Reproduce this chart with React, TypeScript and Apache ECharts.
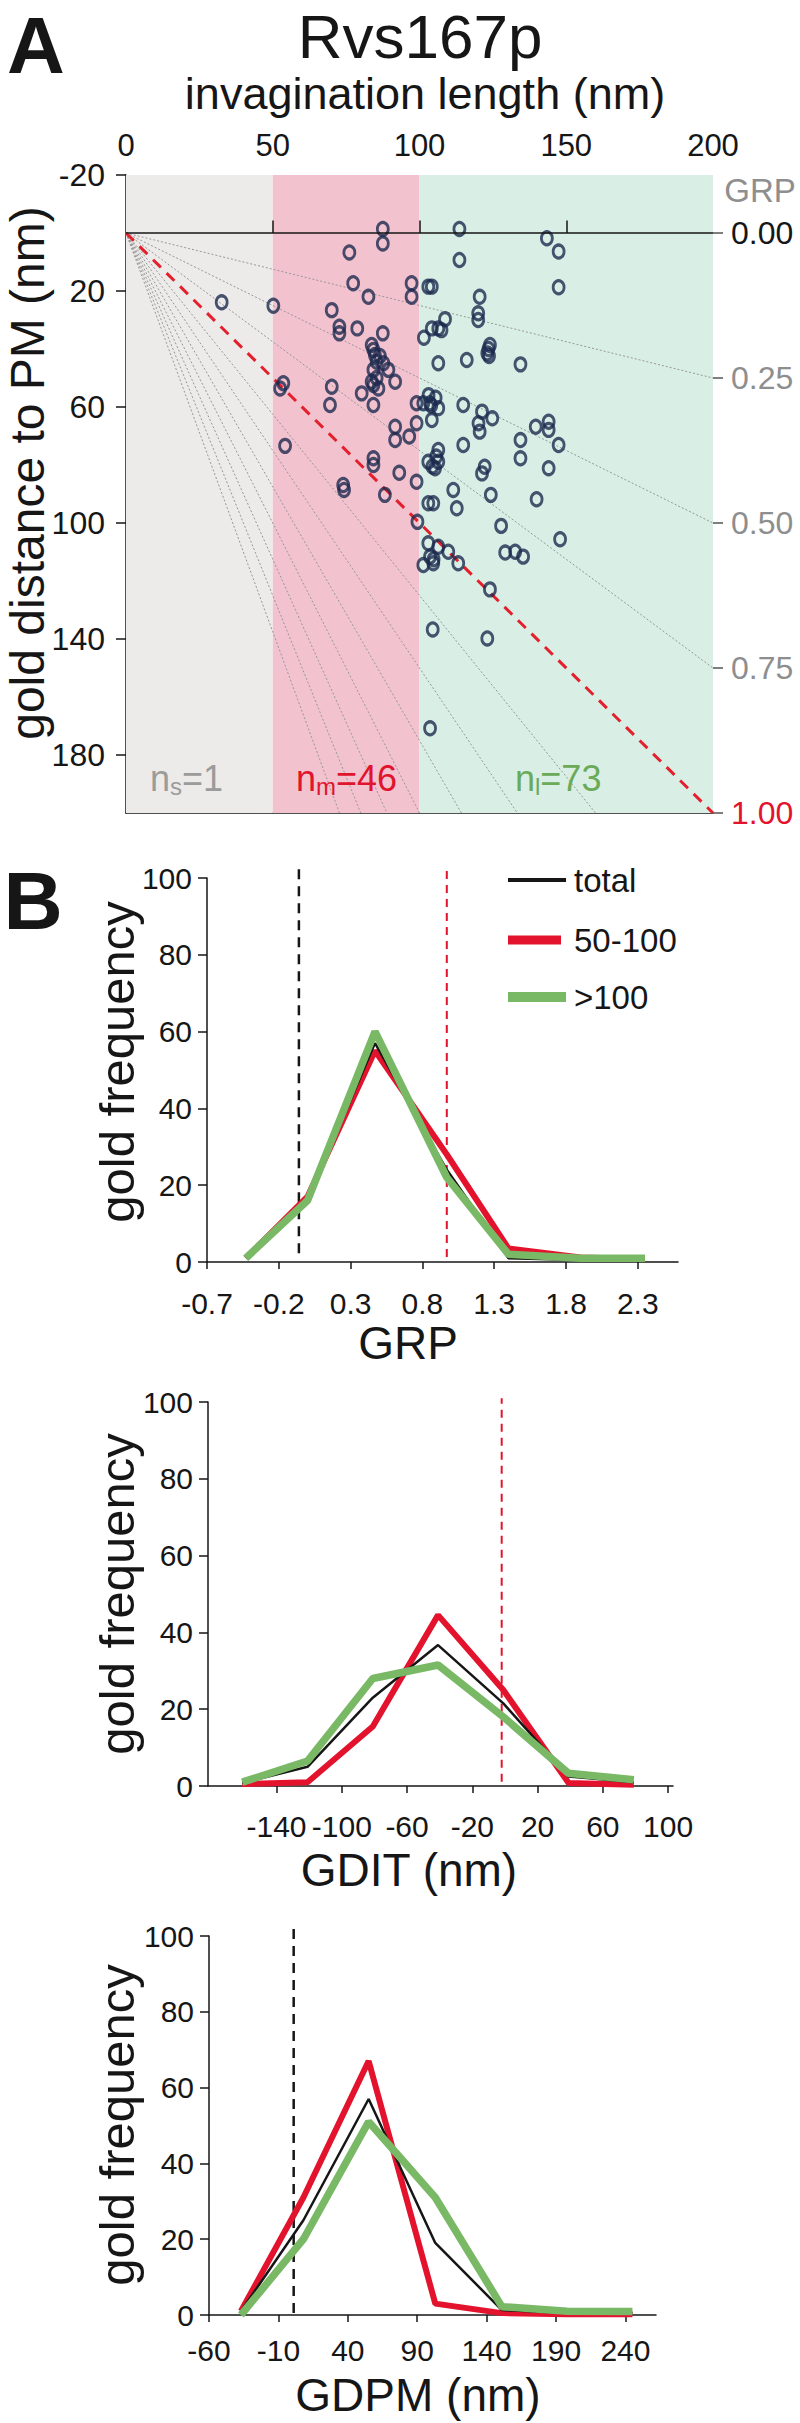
import React, { useEffect, useRef } from "react";
import * as echarts from "echarts";

const FONT = "'Liberation Sans', Arial, Helvetica, sans-serif";
const INK = "#161616";
const RED = "#e3132d";
const GREEN = "#79b966";
const GRAY_TXT = "#8e8e8e";
const DOT = "#1d2b4f";

// ---------------- Panel A data ----------------
const lengthTicks = [0, 50, 100, 150, 200];
const distanceTicks = [-20, 20, 60, 100, 140, 180];
const grpAxisTicks = [0, 0.25, 0.5, 0.75, 1];
const lengthClassBounds = [0, 50, 100, 200];
const classSubscripts = ["s", "m", "l"];
const classCounts = ["1", "46", "73"];
const grpGuides = [0.25, 0.5, 0.75, 1.25, 1.5, 1.75, 2, 2.25, 2.5, 2.75];
const zeroLineTicks = [50, 100, 150];

const invaginationLength = [
  32.6, 50.2, 53.6, 52.5, 54.2, 87.5, 87.5, 76.1, 77.4, 82.6,
  97.3, 97.3, 70.1, 72.7, 72.7, 78.8, 87.5, 83.7, 84.3, 84.8,
  85.4, 87.7, 89.4, 84.3, 83.7, 84.3, 85.4, 91.7, 70.1, 80.3,
  69.5, 84.3, 99.0, 99.0, 91.7, 91.7, 96.5, 84.3, 84.3, 93.1,
  74.0, 74.3, 88.2, 99.0, 99.3, 86.0, 86.5,
  113.6, 113.6, 143.4, 147.4, 147.4, 103.0, 104.2, 120.5, 108.7, 120.0,
  120.0, 104.2, 106.4, 101.5, 124.0, 123.1, 123.7, 116.1, 134.4, 106.4,
  101.3, 103.6, 103.1, 106.4, 104.2, 114.9, 121.3, 124.8, 120.1, 120.5,
  139.6, 144.0, 144.0, 134.4, 147.4, 114.9, 106.4, 105.7, 134.4, 103.0,
  106.4, 105.3, 122.2, 121.3, 144.0, 111.5, 124.3, 139.9, 103.0, 104.7,
  112.7, 127.8, 147.9, 103.0, 106.4, 109.8, 103.6, 104.7, 101.3, 113.2,
  129.2, 132.6, 135.3, 124.0, 104.5, 123.1, 103.6, 104.0, 105.5, 104.8,
  104.4, 123.5, 107.5,
];
const goldDistance = [
  23.9, 25.1, 51.8, 53.6, 73.4, -1.4, 3.6, 6.7, 17.3, 22.0,
  17.3, 22.0, 26.6, 32.3, 34.6, 32.9, 34.6, 38.6, 40.3, 42.1,
  44.4, 44.9, 47.2, 47.2, 51.3, 52.4, 50.0, 51.3, 53.0, 55.3,
  59.3, 59.3, 58.7, 65.6, 66.8, 71.4, 70.2, 77.7, 80.0, 82.7,
  86.9, 88.6, 90.3, 85.8, 99.6, 53.6, 42.4,
  -1.4, 9.3, 1.8, 6.4, 18.7, 18.5, 18.5, 22.0, 29.7, 27.7,
  30.0, 32.9, 32.9, 36.1, 38.6, 41.5, 42.4, 43.8, 45.3, 44.9,
  58.7, 58.7, 55.9, 60.4, 64.5, 59.3, 61.6, 63.9, 65.6, 68.5,
  66.8, 65.1, 67.9, 71.4, 73.1, 73.1, 74.8, 77.1, 77.7, 78.9,
  78.9, 81.1, 80.6, 82.9, 81.1, 88.6, 90.3, 91.8, 93.2, 93.2,
  94.9, 101.0, 105.6, 107.0, 108.2, 109.9, 111.6, 113.9, 114.5, 113.9,
  110.2, 109.9, 111.6, 122.9, 136.7, 139.8, 170.8, 59.5, 56.8, 112.5,
  80.5, 40.0, 33.5,
];

// ---------------- Panel B data ----------------
const legendNames = ["total", "50-100", ">100"];
const frequencyTicksMax = 100;

const grpBins = [-0.43, 0.0, 0.47, 0.97, 1.4, 1.9, 2.35];
const grpTotal = [1, 16, 57, 24, 1, 0.5, 0.5];
const grpMid = [1, 17, 55, 28, 3.5, 1.2, 0.8];
const grpLong = [1, 16, 60, 22, 2, 1, 1];
const grpXTicks = [-0.7, -0.2, 0.3, 0.8, 1.3, 1.8, 2.3];
const grpRefBlack = -0.06;
const grpRefRed = 0.97;

const gditBins = [-161, -121, -81, -41, -1, 39, 79];
const gditTotal = [0.8, 5, 23, 36.7, 21.5, 2.5, 1];
const gditMid = [0.5, 1, 15.5, 44.5, 25, 0.8, 0.3];
const gditLong = [1, 6.5, 28, 31.5, 18, 3.3, 1.6];
const gditXTicks = [-140, -100, -60, -20, 20, 60, 100];
const gditRefRed = -2;

const gdpmBins = [-37, 8, 55, 103, 151, 198, 245];
const gdpmTotal = [1, 25, 57, 19, 1.3, 0.5, 0.5];
const gdpmMid = [1, 31, 67, 3, 0.5, 0.2, 0.2];
const gdpmLong = [0, 20, 51, 31, 2.2, 1, 0.9];
const gdpmXTicks = [-60, -10, 40, 90, 140, 190, 240];
const gdpmRefBlack = 1;

function buildOption(): any {
  const xMax = 200;
  const yMax = 200;
  const regionColors = ["#ecebea", "#f3c2cf", "#d9efe5"];

  const txt = (text: string, x: number, y: number, size: number, o: any = {}) => ({
    type: "text",
    x,
    y,
    rotation: o.rot || 0,
    silent: true,
    z: 100,
    style: {
      text,
      fontSize: size,
      fontFamily: FONT,
      fontWeight: o.bold ? "bold" : "normal",
      fill: o.color || INK,
      align: o.align || "center",
      verticalAlign: "middle",
      rich: o.rich,
    },
  });

  const classLabel = (i: number, x: number, color: string) =>
    txt(`{a|n}{b|${classSubscripts[i]}}{a|=${classCounts[i]}}`, x, 778, 36, {
      align: "left",
      color,
      rich: {
        a: { fontSize: 36, lineHeight: 40, fill: color, color, fontFamily: FONT },
        b: { fontSize: 24, lineHeight: 16, verticalAlign: "bottom", fill: color, color, fontFamily: FONT },
      },
    });

  const legendLine = (y: number, x2: number, color: string, w: number) => ({
    type: "line",
    silent: true,
    z: 100,
    shape: { x1: 508, y1: y, x2, y2: y },
    style: { stroke: color, lineWidth: w },
  });

  const graphic = [
    txt("A", 36, 45, 80, { bold: true }),
    txt("Rvs167p", 420, 36, 62),
    txt("invagination length (nm)", 425, 93, 45),
    txt("gold distance to PM (nm)", 27, 473, 48, { rot: Math.PI / 2 }),
    txt("GRP", 760, 190, 33, { color: GRAY_TXT }),
    classLabel(0, 150, "#9b9b9b"),
    classLabel(1, 296, "#e0142c"),
    classLabel(2, 515, "#6aaa58"),
    txt("B", 33, 900, 82, { bold: true }),
    legendLine(880, 566, INK, 4),
    legendLine(940, 561, RED, 9),
    legendLine(997, 566, GREEN, 10),
    txt(legendNames[0], 574, 880, 33, { align: "left" }),
    txt(legendNames[1], 574, 940, 33, { align: "left" }),
    txt(legendNames[2], 574, 997, 33, { align: "left" }),
    txt("GRP", 408, 1343, 46),
    txt("GDIT (nm)", 409, 1870, 46),
    txt("GDPM (nm)", 418, 2395, 46),
    txt("gold frequency", 117, 1062, 49, { rot: Math.PI / 2 }),
    txt("gold frequency", 117, 1594, 49, { rot: Math.PI / 2 }),
    txt("gold frequency", 117, 2125, 49, { rot: Math.PI / 2 }),
  ];

  const axisLineStyle = { color: INK, width: 1.5 };

  const bXAxis = (gridIndex: number, min: number, max: number, ticks: number[], margin: number, fmt?: (v: number) => string) => ({
    gridIndex,
    type: "value",
    min,
    max,
    position: "bottom",
    axisLine: { show: true, onZero: false, lineStyle: axisLineStyle },
    axisTick: { show: true, length: 7, customValues: ticks, lineStyle: axisLineStyle },
    axisLabel: { customValues: ticks, fontSize: 30, margin, color: INK, fontFamily: FONT, formatter: fmt },
    splitLine: { show: false },
  });
  const bYAxis = (gridIndex: number) => ({
    gridIndex,
    type: "value",
    min: 0,
    max: frequencyTicksMax,
    interval: 20,
    axisLine: { show: true, onZero: false, lineStyle: axisLineStyle },
    axisTick: { show: true, length: 9, lineStyle: axisLineStyle },
    axisLabel: { fontSize: 30, margin: 15, color: INK, fontFamily: FONT },
    splitLine: { show: false },
  });

  const hist = (idx: number, bins: number[], total: number[], mid: number[], long: number[]) => [
    { type: "line", xAxisIndex: idx, yAxisIndex: idx, symbol: "none", silent: true, z: 3, data: bins.map((b, i) => [b, mid[i]]), lineStyle: { color: RED, width: 6 } },
    { type: "line", xAxisIndex: idx, yAxisIndex: idx, symbol: "none", silent: true, z: 4, data: bins.map((b, i) => [b, total[i]]), lineStyle: { color: INK, width: 2.5 } },
    { type: "line", xAxisIndex: idx, yAxisIndex: idx, symbol: "none", silent: true, z: 5, data: bins.map((b, i) => [b, long[i]]), lineStyle: { color: GREEN, width: 7.5 } },
  ];
  const refLine = (idx: number, x: number, lo: number, hi: number, color: string, dash: number[], w: number) => ({
    type: "line",
    xAxisIndex: idx,
    yAxisIndex: idx,
    symbol: "none",
    silent: true,
    clip: false,
    z: 2,
    data: [
      [x, lo],
      [x, hi],
    ],
    lineStyle: { color, width: w, type: dash },
  });

  const fanSeries = grpGuides.map((g) => ({
    type: "line",
    xAxisIndex: 0,
    yAxisIndex: 0,
    symbol: "none",
    silent: true,
    z: 2,
    data: g <= 1 ? [[0, 0], [xMax, xMax * g]] : [[0, 0], [yMax / g, yMax]],
    lineStyle: { color: "#979797", width: 1, type: [2, 2] },
  }));

  const markAreaData = lengthClassBounds.slice(0, -1).map((b, i) => [
    { xAxis: b, itemStyle: { color: regionColors[i] } },
    { xAxis: lengthClassBounds[i + 1] },
  ]);
  const markLineData: any[] = [
    [{ coord: [0, 0] }, { coord: [xMax, 0] }],
    ...zeroLineTicks.map((t) => [{ coord: [t, 0] }, { coord: [t, -4.3] }]),
  ];

  return {
    animation: false,
    backgroundColor: "#ffffff",
    textStyle: { fontFamily: FONT },
    graphic,
    grid: [
      { left: 126, top: 175, width: 587, height: 638 },
      { left: 207, top: 878, width: 471, height: 384 },
      { left: 208, top: 1402, width: 465, height: 384 },
      { left: 209, top: 1936, width: 447, height: 379 },
    ],
    xAxis: [
      {
        gridIndex: 0,
        type: "value",
        min: 0,
        max: xMax,
        position: "top",
        axisLine: { show: false, onZero: false },
        axisTick: { show: false },
        axisLabel: { customValues: lengthTicks, fontSize: 31, margin: 14, color: INK, fontFamily: FONT },
        splitLine: { show: false },
      },
      bXAxis(1, -0.7, 2.58, grpXTicks, 26, (v: number) => v.toFixed(1)),
      bXAxis(2, -182, 103, gditXTicks, 25),
      bXAxis(3, -60, 262, gdpmXTicks, 20),
      {
        gridIndex: 0,
        type: "value",
        min: 0,
        max: xMax,
        position: "bottom",
        axisLine: { show: true, onZero: false, lineStyle: axisLineStyle },
        axisTick: { show: false },
        axisLabel: { show: false },
        splitLine: { show: false },
      },
    ],
    yAxis: [
      {
        gridIndex: 0,
        type: "value",
        min: -20,
        max: yMax,
        inverse: true,
        position: "left",
        axisLine: { show: true, onZero: false, lineStyle: axisLineStyle },
        axisTick: { show: true, length: 10, customValues: distanceTicks, lineStyle: axisLineStyle },
        axisLabel: { customValues: distanceTicks, fontSize: 32, margin: 21, color: INK, fontFamily: FONT },
        splitLine: { show: false },
      },
      bYAxis(1),
      bYAxis(2),
      bYAxis(3),
      {
        gridIndex: 0,
        type: "value",
        min: -0.1,
        max: 1.0,
        inverse: true,
        position: "right",
        axisLine: { show: false, onZero: false },
        axisTick: { show: true, length: 10, customValues: grpAxisTicks, lineStyle: { color: "#555", width: 1.5 } },
        axisLabel: {
          customValues: grpAxisTicks,
          margin: 18,
          fontFamily: FONT,
          formatter: (v: number) => {
            const k = v === 0 ? "k" : v >= 1 ? "r" : "g";
            return `{${k}|${v.toFixed(2)}}`;
          },
          rich: {
            k: { color: INK, fontSize: 32, fontFamily: FONT },
            g: { color: GRAY_TXT, fontSize: 32, fontFamily: FONT },
            r: { color: RED, fontSize: 32, fontFamily: FONT },
          },
        },
        splitLine: { show: false },
      },
    ],
    series: [
      ...fanSeries,
      {
        type: "line",
        xAxisIndex: 0,
        yAxisIndex: 0,
        symbol: "none",
        silent: true,
        z: 3,
        data: [
          [0, 0],
          [xMax, yMax],
        ],
        lineStyle: { color: "#e3202c", width: 3, type: [11, 8] },
        markArea: { silent: true, data: markAreaData },
        markLine: {
          silent: true,
          symbol: "none",
          label: { show: false },
          lineStyle: { color: INK, width: 1.5, type: "solid" },
          data: markLineData,
        },
      },
      {
        type: "scatter",
        xAxisIndex: 0,
        yAxisIndex: 0,
        silent: true,
        z: 4,
        symbol: "circle",
        symbolSize: [11, 13],
        data: invaginationLength.map((x, i) => [x, goldDistance[i]]),
        itemStyle: { color: "rgba(0,0,0,0)", borderColor: DOT, borderWidth: 3 },
      },
      ...hist(1, grpBins, grpTotal, grpMid, grpLong),
      refLine(1, grpRefBlack, 2.3, 103, INK, [10, 7], 2.5),
      refLine(1, grpRefRed, 1.3, 102, RED, [8, 6], 2),
      ...hist(2, gditBins, gditTotal, gditMid, gditLong),
      refLine(2, gditRefRed, 1.1, 101, RED, [8, 6], 2),
      ...hist(3, gdpmBins, gdpmTotal, gdpmMid, gdpmLong),
      refLine(3, gdpmRefBlack, 0.5, 102, INK, [10, 7], 2.5),
    ],
  };
}

export default function App() {
  const ref = useRef<HTMLDivElement>(null);
  useEffect(() => {
    if (!ref.current) return;
    const chart = echarts.init(ref.current, null, { renderer: "svg" });
    chart.setOption(buildOption());
    return () => chart.dispose();
  }, []);
  return (
    <div
      ref={ref}
      style={{ position: "absolute", left: 0, top: 0, width: 800, height: 2423, background: "#fff" }}
    />
  );
}
